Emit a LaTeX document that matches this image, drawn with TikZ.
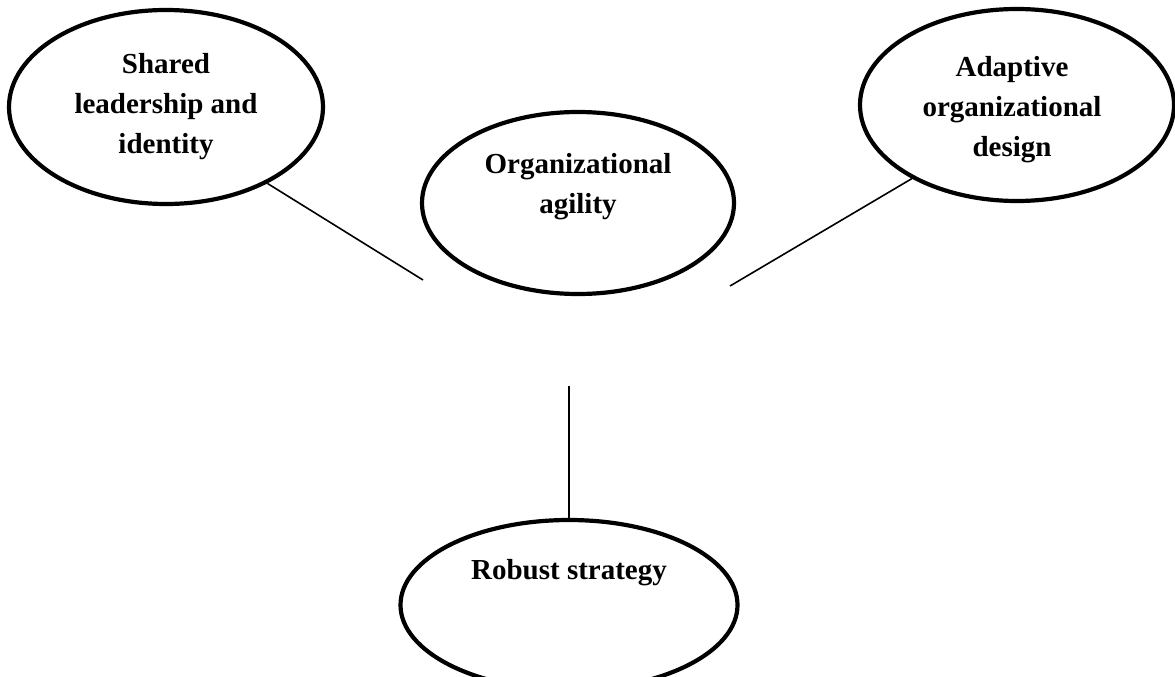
\documentclass[tikz,border=0pt]{standalone}
\usepackage{fontspec}
\setmainfont{Liberation Serif}
\usetikzlibrary{shapes.geometric}

\begin{document}
\begin{tikzpicture}[x=1pt, y=-1pt,
    bubble/.style={draw, ellipse, line width=4.2pt, inner sep=0pt},
    label/.style={font=\fontsize{29}{40}\selectfont\bfseries, align=center},
    link/.style={line width=1.6pt}]

    % --- 1. 枠 ---
    \useasboundingbox (0,0) rectangle (1175,677);

    % --- 2. 楕円 ---
    \node[bubble, minimum width=314, minimum height=194] (shared)   at (166,107) {};
    \node[bubble, minimum width=314, minimum height=192] (adaptive) at (1017,105) {};
    \node[bubble, minimum width=312, minimum height=182] (agility)  at (578,203) {};
    \node[bubble, minimum width=337, minimum height=170] (robust)   at (569,605) {};

    % --- 3. 文字 ---
    \node[label] (shared-t)   at (166,107) {Shared\\leadership and\\identity};
    \node[label] (adaptive-t) at (1012,110) {Adaptive\\organizational\\design};
    \node[label] (agility-t)  at (578,187) {Organizational\\agility};
    \node[label] (robust-t)   at (569,573) {Robust strategy};

    % --- 4. 線 ---
    \coordinate (left-end)  at (423,280);
    \coordinate (right-end) at (730,286);
    \coordinate (low-end)   at (569,386);
    \draw[link] (shared.-37) -- (left-end);
    \draw[link] (adaptive.215) -- (right-end);
    \draw[link] (low-end) -- (robust.north);

\end{tikzpicture}
\end{document}
